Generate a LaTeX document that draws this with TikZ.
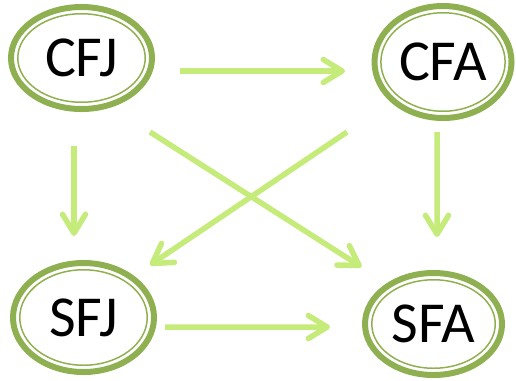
\documentclass[tikz,border=0pt]{standalone}
\usepackage{fontspec}
\setmainfont{Carlito}
\usepackage{tikz}
\usetikzlibrary{calc}
\usetikzlibrary{shapes.geometric}
\usetikzlibrary{arrows.meta}
\definecolor{ringgreen}{RGB}{143,176,80}
\definecolor{arrowgreen}{RGB}{197,235,122}
\tikzset{
	state/.style={ellipse, draw=ringgreen, line width=0.85pt, inner sep=0pt, font=\fontsize{33}{35}\selectfont},
	ring/.style={draw=ringgreen, line width=0.12cm},
	link/.style={draw=arrowgreen, line width=0.11cm, -{Straight Barb[length=0.38cm, width=0.46cm, round]}}
}

\begin{document}
\begin{tikzpicture}[x=0.02cm, y=-0.02cm]
			\useasboundingbox (0,0) rectangle (516,380);
			\node[state, minimum width=2.55cm, minimum height=1.77cm] (cfj) at (81.5,58) {CFJ};
			\node[state, minimum width=2.47cm, minimum height=1.97cm] (cfa) at (443,62) {CFA};
			\node[state, minimum width=2.55cm, minimum height=1.91cm] (sfj) at (83.5,317.5) {SFJ};
			\node[state, minimum width=2.47cm, minimum height=1.77cm] (sfa) at (433.5,324) {SFA};
			% outer rings
			\foreach \n/\rx/\ry in {cfj/70.5/51, cfa/68.5/56, sfj/70.5/54.5, sfa/68.5/51}{
				\draw[ring] (\n.center) ellipse [x radius=\rx, y radius=\ry];};
			% arrows
			\draw[link] ($(cfj.center)+(98.5,13)$) -- ($(cfa.center)+(-98,9)$);
			\draw[link] ($(cfj.center)+(-7.5,88)$) -- ($(sfj.center)+(-9.5,-81.5)$);
			\draw[link] ($(cfa.center)+(-6,70)$) -- ($(sfa.center)+(3.5,-87)$);
			\draw[link] ($(sfj.center)+(81.5,9.5)$) -- ($(sfa.center)+(-103.5,3)$);
			\draw[link] ($(cfj.center)+(68.5,74)$) -- ($(sfa.center)+(-72,-57)$);
			\draw[link] ($(cfa.center)+(-96,70)$) -- ($(sfj.center)+(66.5,-52.5)$);
		\end{tikzpicture}
\end{document}
